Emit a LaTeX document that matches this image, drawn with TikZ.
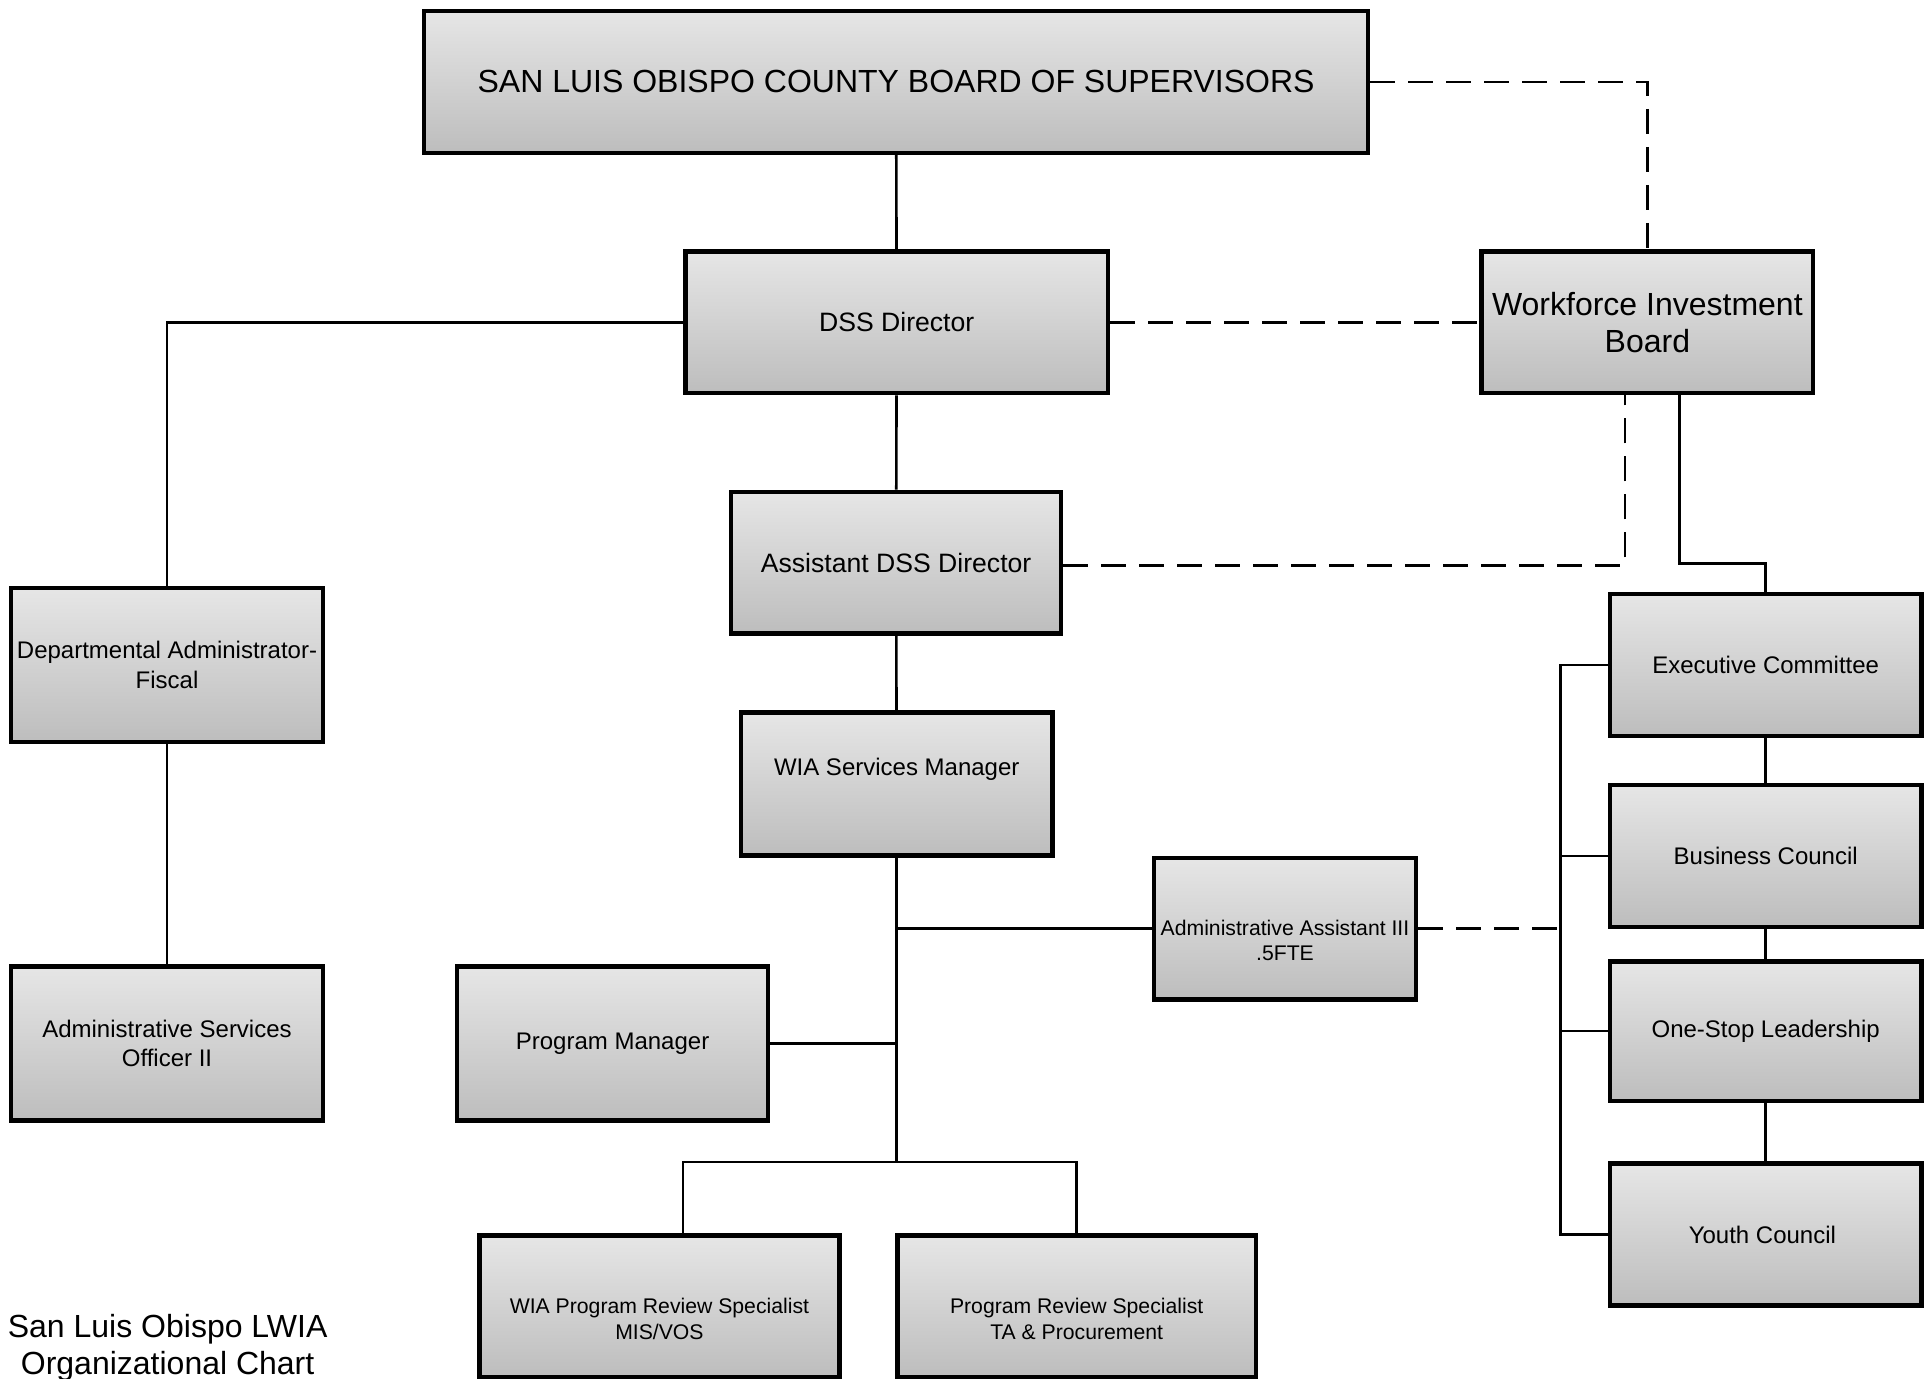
\documentclass[tikz,border=0pt]{standalone}
\usepackage{fontspec}
\setmainfont{Liberation Sans}
\usetikzlibrary{calc}

\definecolor{boxtop}{HTML}{E6E6E6}
\definecolor{boxbot}{HTML}{BDBDBD}

\tikzset{
	unit/.style 2 args={draw=black, line width=2.2pt, top color=boxtop, bottom color=boxbot,
			minimum width=#1*0.6163pt, minimum height=#2*0.6163pt, inner sep=0pt, align=center},
	link/.style={line width=1.3pt},
	dash link/.style={link, dash pattern=on 12.5pt off 6.5pt},
	fbig/.style={font=\fontsize{16}{18.5}\selectfont},
	fmid/.style={font=\fontsize{13.3}{16}\selectfont},
	fnorm/.style={font=\fontsize{12}{14.8}\selectfont},
	fsmall/.style={font=\fontsize{10.6}{12.6}\selectfont, align=center},
}

\begin{document}
\begin{tikzpicture}[x=0.6163pt, y=-0.6163pt]

			\useasboundingbox (0,0) rectangle (1565,1118);

			% Board, directors and the WIB
			\node[unit={766}{115}, fbig] (board) at (727,66.5) {SAN LUIS OBISPO COUNTY BOARD OF SUPERVISORS};
			\node[unit={343}{115}, fmid] (dss) at (727.5,261.5) {DSS Director};
			\node[unit={269}{115}, fbig] (wib) at (1336.5,261.5) {Workforce Investment\\Board};
			\node[unit={268}{115}, fmid] (asst) at (727,456.5) {Assistant DSS Director};

			% Fiscal side
			\node[unit={253}{125}, fnorm] (dept) at (135.5,539.5) {Departmental Administrator-\\Fiscal};
			\node[unit={253}{125}, fnorm] (aso) at (135.5,846.5) {Administrative Services\\Officer II};

			% WIA staff
			\node[unit={253}{116}] (wsm) at (727.5,636) {};
			\node[fnorm] (wsm-t) at (727.5,624) {WIA Services Manager};
			\node[unit={213}{115}] (aa3) at (1042.5,753.5) {};
			\node[fsmall] (aa3-t) at (1042.5,763) {Administrative Assistant III\\.5FTE};
			\node[unit={252}{125}, fnorm] (pm) at (497,846.5) {Program Manager};
			\node[unit={292}{115}] (wprs) at (535,1060) {};
			\node[fsmall] (wprs-t) at (535,1070) {WIA Program Review Specialist\\MIS/VOS};
			\node[unit={291}{115}] (prs) at (873.5,1060) {};
			\node[fsmall] (prs-t) at (873.5,1070) {Program Review Specialist\\TA \& Procurement};

			% WIB committees
			\foreach \name/\y/\h/\txt in {
					exec/539.5/115/Executive Committee,
					biz/694.5/115/Business Council,
					osl/836.5/113/One-Stop Leadership,
					youth/1001.5/115/Youth Council
				} {
					\node[unit={253}{\h}, fnorm] (\name) at (1432.5,\y) {\txt};
				}

			% Caption
			\node[fbig, align=center] (title) at (136,1093) {San Luis Obispo LWIA\\Organizational Chart};

			% Solid reporting lines
			\draw[link] (board) -- (dss);
			\draw[link] (dss) -- (asst);
			\draw[link] (asst) -- (wsm);
			\draw[link] (dss.west) -| (dept.north);
			\draw[link] (dept) -- (aso);
			\coordinate (split) at ($(wsm.south)+(0,247)$);
			\draw[link] (wsm.south) -- (split);
			\draw[link] ($(wprs.north)+(19,0)$) |- (split) -| (prs.north);
			\draw[link] (aa3.west) -- (aa3.west -| wsm.south);
			\draw[link] (pm.east) -- (pm.east -| wsm.south);

			\coordinate (wib-r) at ($(wib.south)+(26,0)$);
			\draw[link] (wib-r) |- ($(exec.north)+(0,-23)$) -- (exec.north);
			\coordinate (bus) at ($(exec.west)+(-38,0)$);
			\draw[link] (exec.west) -- (bus) |- (youth.west);
			\draw[link] (biz.west) -- (biz.west -| bus);
			\draw[link] (osl.west) -- (osl.west -| bus);
			\draw[link] (exec) -- (biz);
			\draw[link] (biz) -- (osl);
			\draw[link] (osl) -- (youth);

			% Dashed advisory lines
			\draw[dash link] (board.east) -| (wib.north);
			\draw[dash link] (dss.east) -- (wib.west);
			\coordinate (wib-l) at ($(wib.south)+(-18,0)$);
			\draw[dash link] ($(asst.east)+(0,2.5)$) -| (wib-l);
			\draw[dash link] (aa3.east) -- (aa3.east -| bus);

		\end{tikzpicture}
\end{document}
